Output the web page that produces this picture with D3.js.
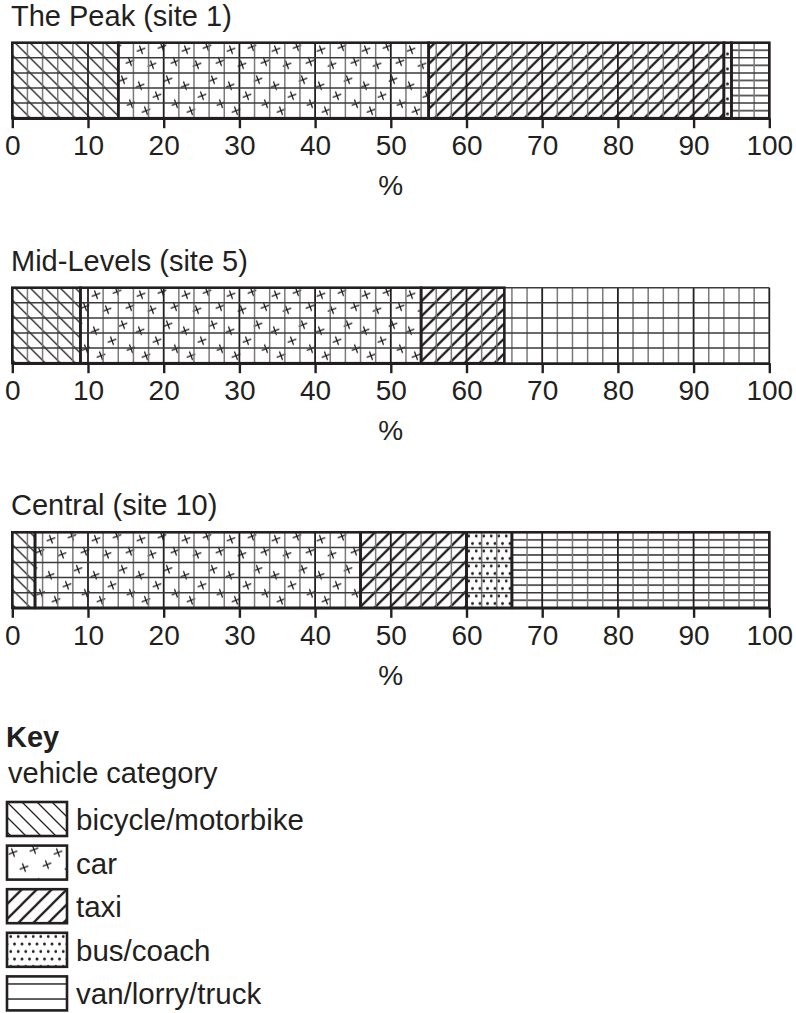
<!DOCTYPE html>
<html>
<head>
<meta charset="utf-8">
<script src="https://cdn.jsdelivr.net/npm/d3@7"></script>
<style>
  html, body { margin: 0; padding: 0; background: #fff; }
  svg { display: block; }
  text { font-family: "Liberation Sans", Arial, Helvetica, sans-serif; fill: #231f20; }
</style>
</head>
<body>
<svg id="chart" width="796" height="1013"></svg>
<script>
// ---------- data ----------
const sites = ["The Peak (site 1)", "Mid-Levels (site 5)", "Central (site 10)"];
const categories = ["bicycle/motorbike", "car", "taxi", "bus/coach", "van/lorry/truck"];
const peakValues = [14, 41, 39, 1, 5];
const midLevelsValues = [9, 45, 11, null, null]; // remainder left blank in the original
const centralValues = [3, 43, 14, 6, 34];
const tickValues = [0, 10, 20, 30, 40, 50, 60, 70, 80, 90, 100];
const axisLabel = "%";
const keyTitle = "Key";
const keySubtitle = "vehicle category";

const siteValues = [peakValues, midLevelsValues, centralValues];

// ---------- layout ----------
const ink = "#231f20";
const svg = d3.select("#chart");
const x = d3.scaleLinear().domain([0, 100]).range([12.3, 769.3]);
const barTops = [42.7, 287.7, 532.3];
const barH = 75.5;
const rows = 5;
const y = d3.scaleLinear().domain([0, rows]).range([0, barH]);

// ---------- patterns ----------
const defs = svg.append("defs");
const patKeys = ["bike", "car", "taxi", "bus", "van"];

// bicycle: "\" hatching
const pBike = defs.append("pattern").attr("id", "p-bike")
  .attr("patternUnits", "userSpaceOnUse").attr("width", 15).attr("height", 15);
pBike.append("path")
  .attr("d", "M0,0L15,15M-7.5,7.5L7.5,22.5M7.5,-7.5L22.5,7.5")
  .attr("stroke", ink).attr("stroke-width", 1.3).attr("fill", "none");

// taxi: "/" hatching, bolder
const pTaxi = defs.append("pattern").attr("id", "p-taxi")
  .attr("patternUnits", "userSpaceOnUse").attr("width", 15).attr("height", 15);
pTaxi.append("path")
  .attr("d", "M0,15L15,0M-7.5,7.5L7.5,-7.5M7.5,22.5L22.5,7.5")
  .attr("stroke", ink).attr("stroke-width", 2.3).attr("fill", "none");

// car: scattered small tilted crosses
const carMarks = [[6, 7], [27, 4], [40, 19], [17, 22], [33, 37], [5, 43], [22, 53], [41, 61], [11, 68]];
const pCar = defs.append("pattern").attr("id", "p-car")
  .attr("patternUnits", "userSpaceOnUse").attr("width", 45).attr("height", 75);
const ang = -20 * Math.PI / 180, arm = 4.6;
pCar.selectAll("path").data(carMarks).join("path")
  .attr("d", d => {
    const c = Math.cos(ang), s = Math.sin(ang);
    return `M${d[0] - arm * c},${d[1] - arm * s}L${d[0] + arm * c},${d[1] + arm * s}` +
           `M${d[0] + arm * s},${d[1] - arm * c}L${d[0] - arm * s},${d[1] + arm * c}`;
  })
  .attr("stroke", ink).attr("stroke-width", 1.3).attr("fill", "none");

// bus: staggered dots
const busDots = [[3.75, 3.75], [11.25, 3.75], [0, 11.25], [7.5, 11.25], [15, 11.25]];
const pBus = defs.append("pattern").attr("id", "p-bus")
  .attr("patternUnits", "userSpaceOnUse").attr("width", 15).attr("height", 15);
pBus.selectAll("circle").data(busDots).join("circle")
  .attr("cx", d => d[0]).attr("cy", d => d[1]).attr("r", 1.4).attr("fill", ink);

// van: horizontal lines between grid rows
const pVan = defs.append("pattern").attr("id", "p-van")
  .attr("patternUnits", "userSpaceOnUse").attr("width", 20).attr("height", barH / rows);
pVan.append("path")
  .attr("d", `M0,${barH / rows / 2}H20`)
  .attr("stroke", ink).attr("stroke-width", 1.4).attr("fill", "none");

// ---------- bars ----------
sites.forEach((site, si) => {
  const g = svg.append("g").attr("transform", `translate(0,${barTops[si]})`);
  const vals = siteValues[si];
  let acc = 0;
  const segs = [];
  vals.forEach((v, ci) => {
    if (v == null) return;
    segs.push({ start: acc, end: acc + v, key: patKeys[ci] });
    acc += v;
  });

  // title
  svg.append("text")
    .attr("x", 11).attr("y", barTops[si] - 17)
    .attr("font-size", 29).text(site);

  // segment fills
  g.selectAll("rect.fill").data(segs).join("rect")
    .attr("class", "fill")
    .attr("x", d => x(d.start)).attr("y", 0)
    .attr("width", d => x(d.end) - x(d.start)).attr("height", barH)
    .attr("fill", d => `url(#p-${d.key})`);

  // grid: vertical minor every 2 %, major every 10 %
  const vGrid = d3.range(0, 101, 2);
  g.selectAll("line.vg").data(vGrid).join("line")
    .attr("class", "vg")
    .attr("x1", d => x(d)).attr("x2", d => x(d))
    .attr("y1", 0).attr("y2", barH)
    .attr("stroke", d => d % 10 === 0 ? ink : "#7a7a7a")
    .attr("stroke-width", d => d % 10 === 0 ? 1.8 : 1.5);
  g.selectAll("line.hg").data(d3.range(0, rows + 1)).join("line")
    .attr("class", "hg")
    .attr("x1", x(0)).attr("x2", x(100))
    .attr("y1", d => y(d)).attr("y2", d => y(d))
    .attr("stroke", "#3a3a3a").attr("stroke-width", 1.5);

  // segment outlines
  g.selectAll("rect.outline").data(segs).join("rect")
    .attr("class", "outline")
    .attr("x", d => x(d.start)).attr("y", 0)
    .attr("width", d => x(d.end) - x(d.start)).attr("height", barH)
    .attr("fill", "none").attr("stroke", ink).attr("stroke-width", 2.6);

  // axis
  const axis = d3.axisBottom(x).tickValues(tickValues).tickSize(10).tickSizeOuter(0).tickPadding(7);
  const ag = g.append("g").attr("transform", `translate(0,${barH})`).call(axis);
  ag.select(".domain").attr("stroke", ink).attr("stroke-width", 2.6);
  ag.selectAll(".tick line").attr("stroke", ink).attr("stroke-width", 2.4);
  ag.selectAll(".tick text")
    .attr("font-size", 28).attr("font-family", "Liberation Sans, Arial, sans-serif")
    .attr("fill", ink);

  svg.append("text")
    .attr("x", x(50)).attr("y", barTops[si] + barH + 77)
    .attr("text-anchor", "middle").attr("font-size", 28).text(axisLabel);
});

// ---------- key ----------
svg.append("text").attr("x", 6).attr("y", 747)
  .attr("font-size", 29).attr("font-weight", "bold").text(keyTitle);
svg.append("text").attr("x", 8).attr("y", 783)
  .attr("font-size", 29).text(keySubtitle);

const keyTop = 802, keyStep = 43.6, swW = 60, swH = 34;
const key = svg.append("g");
categories.forEach((cat, i) => {
  const kg = key.append("g").attr("transform", `translate(7,${keyTop + i * keyStep})`);
  kg.append("rect").attr("width", swW).attr("height", swH).attr("fill", "#fff");
  kg.append("rect").attr("width", swW).attr("height", swH)
    .attr("fill", `url(#p-${patKeys[i]})`)
    .attr("stroke", ink).attr("stroke-width", 2.6);
  svg.append("text")
    .attr("x", 76).attr("y", keyTop + i * keyStep + 28)
    .attr("font-size", 29.5).text(cat);
});
</script>
</body>
</html>
